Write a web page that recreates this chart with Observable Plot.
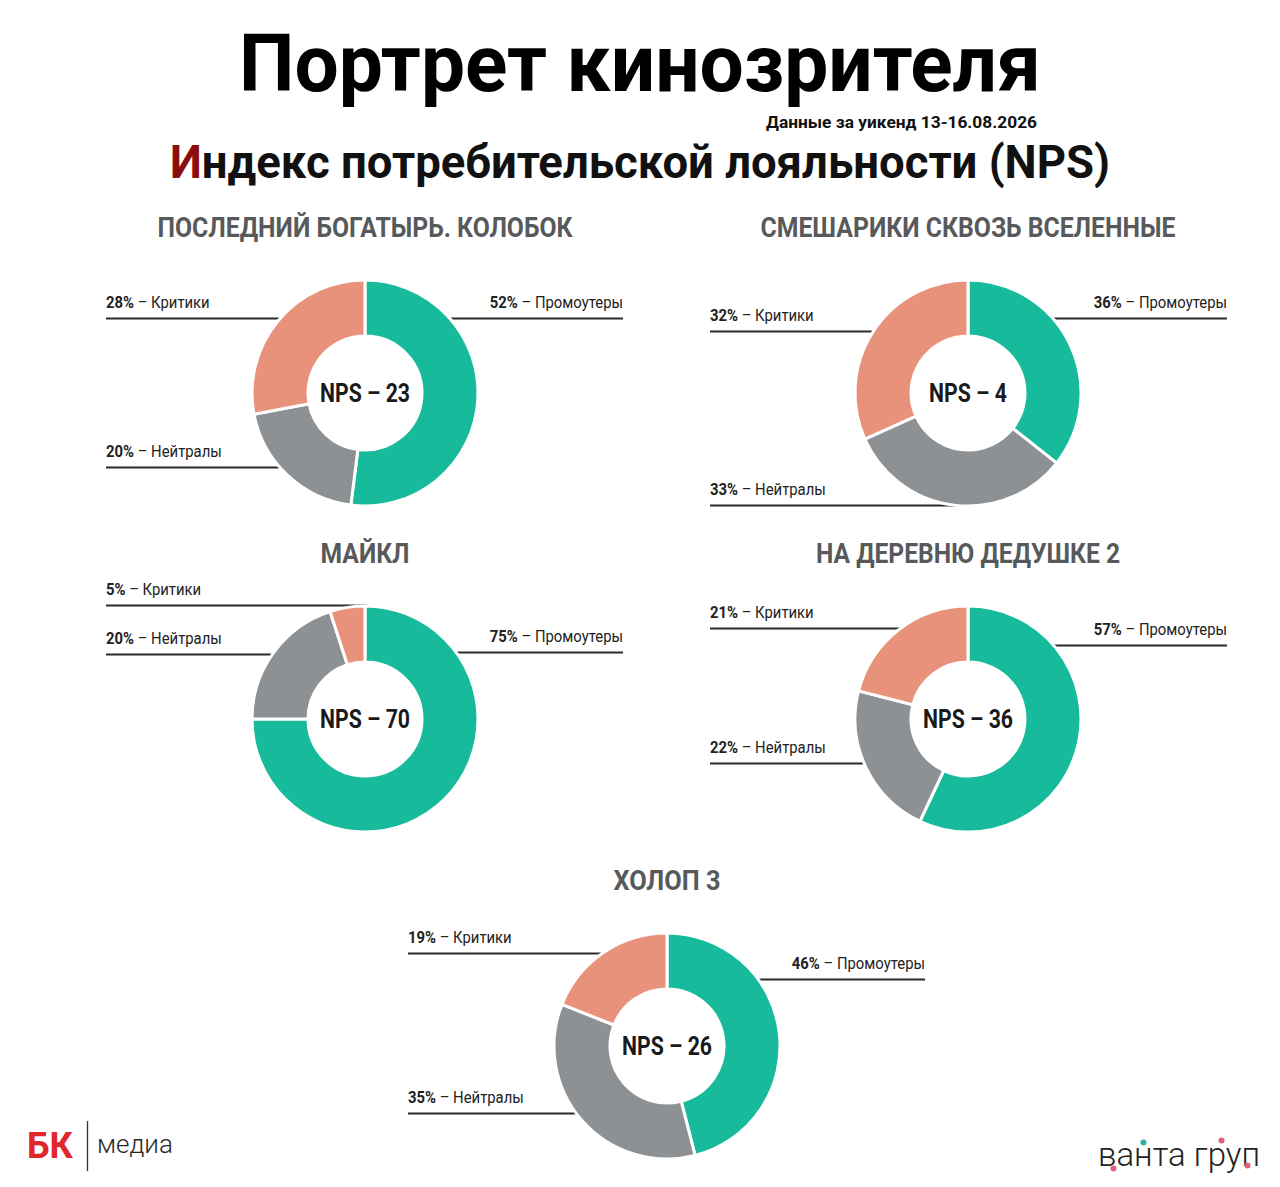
<!DOCTYPE html>
<html><head><meta charset="utf-8">
<script src="https://cdn.jsdelivr.net/npm/d3@7"></script>
<script src="https://cdn.jsdelivr.net/npm/@observablehq/plot@0.6"></script>
<style>html,body{margin:0;padding:0;background:#fff}</style>
</head><body><div id="chart"></div>
<script>
// ---------------- DATA ----------------
const films = ["ПОСЛЕДНИЙ БОГАТЫРЬ. КОЛОБОК", "СМЕШАРИКИ СКВОЗЬ ВСЕЛЕННЫЕ", "МАЙКЛ", "НА ДЕРЕВНЮ ДЕДУШКЕ 2", "ХОЛОП 3"];
const promoters = [52, 36, 75, 57, 46];
const neutrals  = [20, 33, 20, 22, 35];
const critics   = [28, 32, 5, 21, 19];
const npsValues = [23, 4, 70, 36, 26];
const categories = ["Промоутеры", "Нейтралы", "Критики"];
const titleText = "Портрет кинозрителя";
const dateNote = "Данные за уикенд 13-16.08.2026";
const subtitleFirst = "И";
const subtitleRest = "ндекс потребительской лояльности (NPS)";
const logoLeft = ["БК", "медиа"];
const logoRight = "ванта груп";

// ---------------- LAYOUT / STYLE ----------------
const W = 1280, H = 1187;
const R_OUT = 113, R_IN = 57;
const COLORS = ["#17bb9b", "#8e9193", "#e8917b"];
const FONT = "'Roboto', 'Noto Sans', sans-serif";
const panels = [
  {cx: 365, cy: 393, ty: 237, tw: 415, left: 106, right: 623, ly: [318, 467, 318]},
  {cx: 968, cy: 393, ty: 237, tw: 415, left: 710, right: 1227, ly: [318, 505, 331]},
  {cx: 365, cy: 719, ty: 563, tw: 89,  left: 106, right: 623, ly: [652, 654, 605]},
  {cx: 968, cy: 719, ty: 563, tw: 304, left: 710, right: 1227, ly: [645, 763, 628]},
  {cx: 667, cy: 1046, ty: 890, tw: 107, left: 408, right: 925, ly: [979, 1113, 953]}
];

const color = Plot.scale({color: {type: "ordinal", domain: categories, range: COLORS}});

// tidy rows
const slices = films.flatMap((f, i) => {
  const vals = [promoters[i], neutrals[i], critics[i]];
  return categories.map((c, j) => ({film: f, fi: i, category: c, ci: j, value: vals[j]}));
});
const panelRows = films.map((f, i) => ({film: f, nps: npsValues[i], ...panels[i]}));

const labelRows = slices.map(s => {
  const p = panels[s.fi];
  const ly = p.ly[s.ci];
  const dy = ly - p.cy;
  const half = Math.sqrt(Math.max(0, R_OUT * R_OUT - dy * dy));
  const right = s.ci === 0;
  return {
    ...s, ly,
    x1: right ? p.cx + half - 2 : p.left,
    x2: right ? p.right : p.cx - half + 2,
    tx: right ? p.right : p.left,
    anchor: right ? "end" : "start"
  };
});

// donut mark: arcs computed by d3.pie from the values, placed by Plot's x/y scales
function donuts(index, {x, y}) {
  const g = d3.create("svg:g");
  const arc = d3.arc().innerRadius(R_IN).outerRadius(R_OUT);
  const pie = d3.pie().sort(null).value(d => d.value);
  panels.forEach((p, i) => {
    const rows = slices.filter(s => s.fi === i);
    g.append("g")
      .attr("transform", `translate(${x(p.cx)},${y(p.cy)})`)
      .selectAll("path").data(pie(rows)).join("path")
      .attr("d", arc)
      .attr("fill", d => color.apply(d.data.category))
      .attr("stroke", "#fff").attr("stroke-width", 3).attr("stroke-linejoin", "round");
  });
  return g.node();
}

// generic text mark: rows {x, y, parts:[{t, w, fill}], size, weight, fill, anchor, sx, len}
function textMark(rows) {
  return (index, {x, y}) => {
    const g = d3.create("svg:g").attr("font-family", FONT);
    for (const r of rows) {
      const t = g.append("text")
        .attr("transform", `translate(${x(r.x)},${y(r.y)}) scale(${r.sx ?? 1},1)`)
        .attr("text-anchor", r.anchor ?? "middle")
        .attr("font-size", r.size).attr("font-weight", r.weight ?? 400)
        .attr("fill", r.fill ?? "#222");
      if (r.len) t.attr("textLength", r.len).attr("lengthAdjust", "spacingAndGlyphs");
      for (const p of r.parts) {
        const s = t.append("tspan").text(p.t);
        if (p.w) s.attr("font-weight", p.w);
        if (p.fill) s.attr("fill", p.fill);
      }
    }
    return g.node();
  };
}

const labelTexts = labelRows.map(l => ({
  x: l.tx, y: l.ly - 10, anchor: l.anchor, size: 16.5, sx: 0.9, fill: "#222",
  parts: [{t: l.value + "%", w: 700}, {t: " – " + l.category}]
}));
const npsTexts = panelRows.map(p => ({
  x: p.cx, y: p.cy + 9, size: 25, weight: 700, sx: 0.85, fill: "#1a1a1a",
  parts: [{t: `NPS – ${p.nps}`}]
}));
const filmTexts = panelRows.map(p => ({
  x: p.cx, y: p.ty, size: 27, weight: 700, len: p.tw, fill: "#58595b", parts: [{t: p.film}]
}));
const headTexts = [
  {x: W / 2, y: 91, size: 79, weight: 700, len: 802, fill: "#000", parts: [{t: titleText}]},
  {x: 1037, y: 128, anchor: "end", size: 17, weight: 700, len: 271, fill: "#111", parts: [{t: dateNote}]},
  {x: W / 2, y: 178, size: 46, weight: 700, len: 940, fill: "#111",
   parts: [{t: subtitleFirst, fill: "#8b0d0d"}, {t: subtitleRest}]}
];
const logoTexts = [
  {x: 27, y: 1158, anchor: "start", size: 36, weight: 700, fill: "#e1262c", parts: [{t: logoLeft[0]}]},
  {x: 97, y: 1153, anchor: "start", size: 26, weight: 300, fill: "#2a2a2a", parts: [{t: logoLeft[1]}]},
  {x: 1098, y: 1166, anchor: "start", size: 33, weight: 300, len: 162, fill: "#222", parts: [{t: logoRight}]}
];

const logoDots = [
  {x: 1143, y: 1142, c: "#2bb39a"},
  {x: 1113, y: 1168, c: "#e0607a"},
  {x: 1221, y: 1140, c: "#e0607a"},
  {x: 1247, y: 1165, c: "#e0607a"}
];

const chart = Plot.plot({
  width: W, height: H,
  margin: 0,
  x: {domain: [0, W], range: [0, W], axis: null},
  y: {domain: [0, H], range: [0, H], axis: null},
  style: {background: "#fff", fontFamily: FONT},
  marks: [
    Plot.ruleY(labelRows, {y: "ly", x1: "x1", x2: "x2", stroke: "#2a2a2a", strokeWidth: 2}),
    donuts,
    textMark(labelTexts),
    textMark(npsTexts),
    textMark(filmTexts),
    textMark(headTexts),
    textMark(logoTexts),
    Plot.ruleX([87], {x: d => d, y1: 1121, y2: 1171, stroke: "#333", strokeWidth: 1.3}),
    Plot.dot(logoDots, {x: "x", y: "y", r: 3, fill: "c", stroke: null})
  ]
});
document.getElementById("chart").append(chart);
</script>
</body></html>
